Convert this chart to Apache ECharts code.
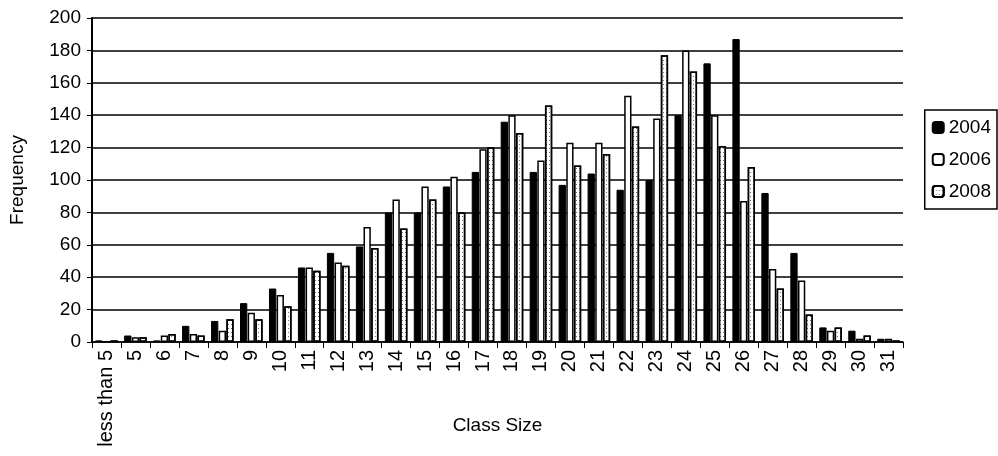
<!DOCTYPE html>
<html><head><meta charset="utf-8">
<script src="https://cdn.jsdelivr.net/npm/echarts@6/dist/echarts.min.js"></script>
<style>html,body{margin:0;padding:0;background:#fff}#c{width:998px;height:456px}</style>
</head><body><div id="c"></div>
<script>
const categories = ['less than 5','5','6','7','8','9','10','11','12','13','14','15','16','17','18','19','20','21','22','23','24','25','26','27','28','29','30','31'];
const y2004 = [1,4,1,10,13,24,33,46,55,59,80,80,96,105,136,105,97,104,94,100,140,172,187,92,55,9,7,2];
const y2006 = [0,3,4,5,7,18,29,46,49,71,88,96,102,119,140,112,123,123,152,138,180,140,87,45,38,7,2,2];
const y2008 = [1,3,5,4,14,14,22,44,47,58,70,88,80,120,129,146,109,116,133,177,167,121,108,33,17,9,4,1];
const yTicks = {min:0, max:200, interval:20};

const font = 'Liberation Sans, Arial, sans-serif';
const chart = echarts.init(document.getElementById('c'), null, {renderer:'canvas'});
const dotDecal = {symbol:'rect', symbolSize:1, color:'rgba(0,0,0,0.55)', dashArrayX:[1,2], dashArrayY:[1,3], rotation:0};
chart.setOption({
  animation:false,
  backgroundColor:'#fff',
  legend:{
    orient:'vertical', right:1, top:110,
    itemWidth:11, itemHeight:11, itemGap:13,
    borderColor:'#000', borderWidth:1.5, padding:[8,6,8,7],
    textStyle:{fontFamily:font, fontSize:19, color:'#000'},
    data:['2004','2006','2008']
  },
  grid:{left:92, right:95, top:18, bottom:114},
  xAxis:{
    type:'category', data:categories,
    name:'Class Size', nameLocation:'middle', nameGap:74, nameMoveOverlap:false,
    nameTextStyle:{fontFamily:font, fontSize:19, color:'#000'},
    axisLine:{lineStyle:{color:'#000', width:1.5}},
    axisTick:{show:true, alignWithLabel:false, length:6, lineStyle:{color:'#000'}},
    axisLabel:{rotate:90, interval:0, fontFamily:font, fontSize:20, color:'#000', margin:8}
  },
  yAxis:{
    type:'value', min:yTicks.min, max:yTicks.max, interval:yTicks.interval,
    name:'Frequency', nameLocation:'middle', nameGap:65, nameRotate:90, nameMoveOverlap:false,
    nameTextStyle:{fontFamily:font, fontSize:19, color:'#000'},
    axisLine:{show:true, lineStyle:{color:'#000', width:2}},
    axisTick:{show:true, length:5, lineStyle:{color:'#000'}},
    axisLabel:{fontFamily:font, fontSize:19, color:'#000', margin:11},
    splitLine:{show:true, lineStyle:{color:'#000', width:1.5}}
  },
  series:[
    {name:'2004', type:'bar', data:y2004, barGap:'5%', barCategoryGap:'22%',
     itemStyle:{color:'#000', borderColor:'#000', borderWidth:1}},
    {name:'2006', type:'bar', data:y2006,
     itemStyle:{color:'#fff', borderColor:'#000', borderWidth:1.5}},
    {name:'2008', type:'bar', data:y2008,
     itemStyle:{color:'#fff', borderColor:'#000', borderWidth:1.5, decal:dotDecal}}
  ]
});
</script></body></html>
